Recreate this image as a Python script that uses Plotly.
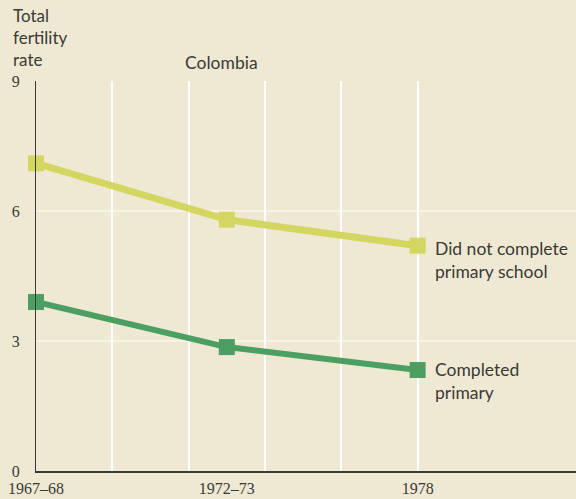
import plotly.graph_objects as go

periods = ["1967-68", "1972-73", "1978"]
tick_labels = ["1967–68", "1972–73", "1978"]
x_pos = [0, 1, 2]
not_completed = [7.1, 5.8, 5.2]
completed = [3.9, 2.86, 2.33]
y_ticks = [0, 3, 6, 9]
series_labels = ["Did not complete<br>primary school", "Completed<br>primary"]

bg = "#efe9d3"
txt = "#3a3a36"
yellow = "#d3d762"
green = "#4b9f63"

fig = go.Figure()
fig.add_trace(go.Scatter(
    x=x_pos, y=not_completed, mode="lines+markers",
    line=dict(color=yellow, width=7),
    marker=dict(symbol="square", size=16, color=yellow),
    cliponaxis=False, showlegend=False))
fig.add_trace(go.Scatter(
    x=x_pos, y=completed, mode="lines+markers",
    line=dict(color=green, width=6),
    marker=dict(symbol="square", size=16, color=green),
    cliponaxis=False, showlegend=False))

fig.add_annotation(x=x_pos[-1], y=not_completed[-1], text=series_labels[0],
                   xref="x", yref="y", xanchor="left", yanchor="middle",
                   xshift=15, yshift=-14, showarrow=False, align="left",
                   font=dict(family="Lato", size=17.5, color=txt))
fig.add_annotation(x=x_pos[-1], y=completed[-1], text=series_labels[1],
                   xref="x", yref="y", xanchor="left", yanchor="middle",
                   xshift=15, yshift=-11, showarrow=False, align="left",
                   font=dict(family="Lato", size=17.5, color=txt))

fig.add_annotation(x=0, y=1, xref="paper", yref="paper", yshift=9,
                   text="Total<br>fertility<br>rate", xanchor="left", yanchor="bottom",
                   xshift=-25, showarrow=False, align="left",
                   font=dict(family="Lato", size=17, color=txt))
fig.add_annotation(x=0.97, y=1, xref="x", yref="paper", yshift=6,
                   text="Colombia", xanchor="center", yanchor="bottom",
                   showarrow=False, font=dict(family="Lato", size=17.5, color=txt))

fig.update_layout(
    width=576, height=499,
    margin=dict(l=36, r=0, t=81, b=28, autoexpand=False),
    paper_bgcolor=bg, plot_bgcolor=bg,
    xaxis=dict(range=[0, 2.83], tickvals=x_pos, ticktext=tick_labels,
               automargin=False,
               showgrid=False, zeroline=False, showline=True,
               linecolor="#3a3a36", linewidth=1.8, ticks="",
               ticklabelstandoff=2,
               tickfont=dict(family="Liberation Serif", size=16, color=txt),
               minor=dict(tickvals=[0.4, 0.8, 1.2, 1.6, 2.0], showgrid=True,
                          gridcolor="#ffffff", gridwidth=2)),
    yaxis=dict(range=[0, 9], tickvals=y_ticks, showgrid=True,
               automargin=False,
               gridcolor="rgba(255,255,255,0.45)", gridwidth=1.5,
               zeroline=False, showline=True, linecolor="#3a3a36", linewidth=1.2,
               ticks="", ticklabelstandoff=12,
               tickfont=dict(family="Liberation Serif", size=16, color=txt)),
)

fig.write_html("out.html", config={"displayModeBar": False},
               post_script="document.body.style.margin='0';document.body.style.overflow='hidden';")
